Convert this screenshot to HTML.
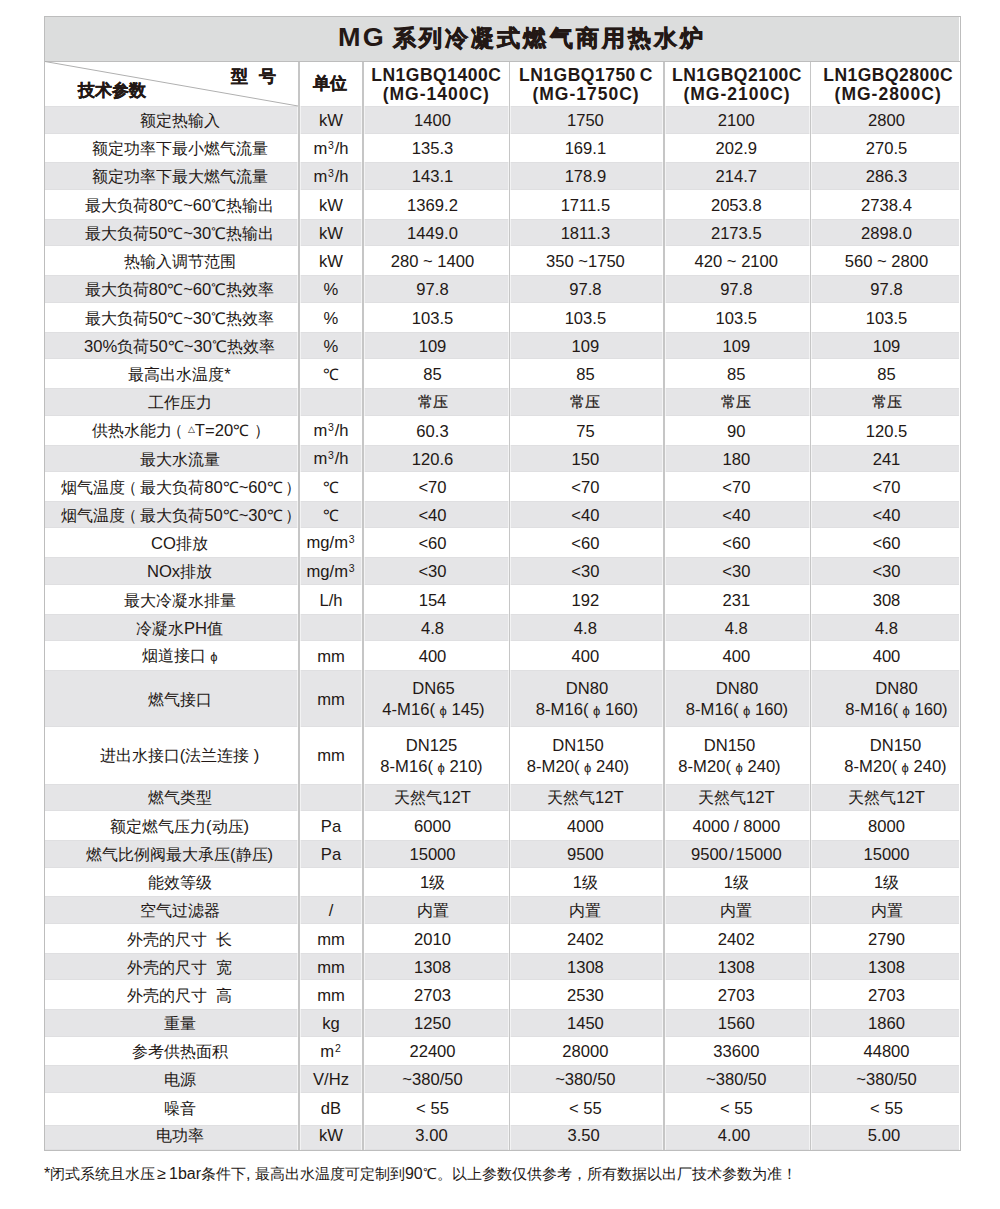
<!DOCTYPE html>
<html><head><meta charset="utf-8"><style>
html,body{margin:0;padding:0;background:#fff;}
body{width:1000px;height:1209px;position:relative;overflow:hidden;font-family:"Liberation Sans",sans-serif;color:#231815;}
.g{position:absolute;left:45px;width:914px;background:#e5e5e7;box-shadow:inset 0 1px 0 #dfdfe1,inset 0 -1px 0 #dfdfe1;}
.c{position:absolute;display:flex;align-items:center;justify-content:center;text-align:center;font-size:16.6px;line-height:20px;white-space:nowrap;}
.c>span{position:relative;top:1.2px;}
i{font-style:normal;font-size:15.8px;}
b{font-weight:normal;}
.v{position:absolute;width:1px;background:#c6c6c6;box-shadow:-1px 0 0 rgba(255,255,255,.55),1px 0 0 rgba(255,255,255,.55);}
.s i{font-size:14.5px;-webkit-text-stroke:0.2px #231815;position:relative;top:-1px;}
.phi{font-size:13px;}
.sup{font-size:10.5px;position:relative;top:-5px;margin:0 0.8px;}
.tri{font-size:9px;position:relative;top:-4px;}
.tall{line-height:21.3px;}
#title{position:absolute;left:45px;top:17px;width:914px;height:44px;background:#dcdddd;}
.tt{position:absolute;left:338px;top:20px;font-size:24px;font-weight:bold;line-height:36px;white-space:nowrap;}
.tt i{font-size:23px;letter-spacing:3.1px;-webkit-text-stroke:0.7px #231815;}
.hd{font-weight:bold;}
.hd i{font-size:17px;-webkit-text-stroke:0.3px #231815;}
#ft{position:absolute;left:44px;top:1164px;font-size:16px;line-height:20px;white-space:nowrap}
#ft i{font-size:14.7px;}
</style></head><body>

<div id="title"></div>
<div class="g" style="top:106px;height:27.6px"></div>
<div class="g" style="top:162.4px;height:27.6px"></div>
<div class="g" style="top:219.2px;height:27.2px"></div>
<div class="g" style="top:275.2px;height:27.8px"></div>
<div class="g" style="top:332px;height:27.2px"></div>
<div class="g" style="top:388px;height:28.0px"></div>
<div class="g" style="top:444.8px;height:27.2px"></div>
<div class="g" style="top:501px;height:27.4px"></div>
<div class="g" style="top:557.2px;height:27.6px"></div>
<div class="g" style="top:614px;height:27.2px"></div>
<div class="g" style="top:670.2px;height:56.8px"></div>
<div class="g" style="top:783.6px;height:27.4px"></div>
<div class="g" style="top:840px;height:27.6px"></div>
<div class="g" style="top:896px;height:28.0px"></div>
<div class="g" style="top:953px;height:27.0px"></div>
<div class="g" style="top:1009px;height:28.0px"></div>
<div class="g" style="top:1065px;height:28.0px"></div>
<div class="g" style="top:1125px;height:25.0px"></div>
<div class="v" style="left:298px;width:2px;top:62px;height:1088px"></div>
<div class="v" style="left:362px;width:2px;top:62px;height:1088px"></div>
<div class="v" style="left:509px;width:1px;top:62px;height:1088px"></div>
<div class="v" style="left:663px;width:2px;top:62px;height:1088px"></div>
<div class="v" style="left:810px;width:1px;top:62px;height:1088px"></div>
<div style="position:absolute;left:44px;top:16px;width:915px;height:1133px;border:1px solid #bdbdbd;"></div>
<div style="position:absolute;left:45px;top:61px;width:915px;height:1px;background:#bdbdbd"></div>
<svg style="position:absolute;left:0;top:0" width="1000" height="200"><line x1="45" y1="61.5" x2="298" y2="106" stroke="#b0b0b0" stroke-width="1"/></svg>
<div class="tt"><span style="font-size:25px;letter-spacing:2px;display:inline-block;transform:scaleX(1.08);transform-origin:0 0;position:relative;top:-1px">MG</span></div><div class="tt" style="left:393px"><i>系列冷凝式燃气商用热水炉</i></div>
<div class="c hd" style="left:232px;top:66px;letter-spacing:11px;margin-left:-1px"><span><i>型号</i></span></div>
<div class="c hd" style="left:78px;top:80px"><span><i>技术参数</i></span></div>
<div class="c hd" style="left:290px;width:80px;top:60px;height:45px"><span><i>单位</i></span></div>
<div class="c hd" style="left:356.3px;width:160px;top:65px;height:19px;font-size:17.5px;line-height:19px;letter-spacing:0.5px"><span>LN1GBQ1400C</span></div>
<div class="c hd" style="left:356.3px;width:160px;top:84px;height:19px;font-size:17.5px;line-height:19px;letter-spacing:1px"><span>(MG-1400C)</span></div>
<div class="c hd" style="left:506px;width:160px;top:65px;height:19px;font-size:17.5px;line-height:19px;letter-spacing:0.5px"><span>LN1GBQ1750&thinsp;C</span></div>
<div class="c hd" style="left:506px;width:160px;top:84px;height:19px;font-size:17.5px;line-height:19px;letter-spacing:1px"><span>(MG-1750C)</span></div>
<div class="c hd" style="left:657px;width:160px;top:65px;height:19px;font-size:17.5px;line-height:19px;letter-spacing:0.5px"><span>LN1GBQ2100C</span></div>
<div class="c hd" style="left:657px;width:160px;top:84px;height:19px;font-size:17.5px;line-height:19px;letter-spacing:1px"><span>(MG-2100C)</span></div>
<div class="c hd" style="left:808.2px;width:160px;top:65px;height:19px;font-size:17.5px;line-height:19px;letter-spacing:0.5px"><span>LN1GBQ2800C</span></div>
<div class="c hd" style="left:808.2px;width:160px;top:84px;height:19px;font-size:17.5px;line-height:19px;letter-spacing:1px"><span>(MG-2800C)</span></div>
<div class="c" style="left:29.5px;width:300px;top:106.0px;height:27.6px"><span><i>额定热输入</i></span></div>
<div class="c" style="left:291.0px;width:80px;top:106.0px;height:27.6px"><span>kW</span></div>
<div class="c" style="left:357.5px;width:150px;top:106.0px;height:27.6px"><span>1400</span></div>
<div class="c" style="left:505.4px;width:160px;top:106.0px;height:27.6px"><span>1750</span></div>
<div class="c" style="left:661.3px;width:150px;top:106.0px;height:27.6px"><span>2100</span></div>
<div class="c" style="left:811.5px;width:150px;top:106.0px;height:27.6px"><span>2800</span></div>
<div class="c" style="left:29.5px;width:300px;top:133.6px;height:28.8px"><span><i>额定功率下最小燃气流量</i></span></div>
<div class="c" style="left:291.0px;width:80px;top:133.6px;height:28.8px"><span>m<b class=sup>3</b>/h</span></div>
<div class="c" style="left:357.5px;width:150px;top:133.6px;height:28.8px"><span>135.3</span></div>
<div class="c" style="left:505.4px;width:160px;top:133.6px;height:28.8px"><span>169.1</span></div>
<div class="c" style="left:661.3px;width:150px;top:133.6px;height:28.8px"><span>202.9</span></div>
<div class="c" style="left:811.5px;width:150px;top:133.6px;height:28.8px"><span>270.5</span></div>
<div class="c" style="left:29.5px;width:300px;top:162.4px;height:27.6px"><span><i>额定功率下最大燃气流量</i></span></div>
<div class="c" style="left:291.0px;width:80px;top:162.4px;height:27.6px"><span>m<b class=sup>3</b>/h</span></div>
<div class="c" style="left:357.5px;width:150px;top:162.4px;height:27.6px"><span>143.1</span></div>
<div class="c" style="left:505.4px;width:160px;top:162.4px;height:27.6px"><span>178.9</span></div>
<div class="c" style="left:661.3px;width:150px;top:162.4px;height:27.6px"><span>214.7</span></div>
<div class="c" style="left:811.5px;width:150px;top:162.4px;height:27.6px"><span>286.3</span></div>
<div class="c" style="left:29.5px;width:300px;top:190.0px;height:29.2px"><span><i>最大负荷</i>80<i>℃</i>~60<i>℃热输出</i></span></div>
<div class="c" style="left:291.0px;width:80px;top:190.0px;height:29.2px"><span>kW</span></div>
<div class="c" style="left:357.5px;width:150px;top:190.0px;height:29.2px"><span>1369.2</span></div>
<div class="c" style="left:505.4px;width:160px;top:190.0px;height:29.2px"><span>1711.5</span></div>
<div class="c" style="left:661.3px;width:150px;top:190.0px;height:29.2px"><span>2053.8</span></div>
<div class="c" style="left:811.5px;width:150px;top:190.0px;height:29.2px"><span>2738.4</span></div>
<div class="c" style="left:29.5px;width:300px;top:219.2px;height:27.2px"><span><i>最大负荷</i>50<i>℃</i>~30<i>℃热输出</i></span></div>
<div class="c" style="left:291.0px;width:80px;top:219.2px;height:27.2px"><span>kW</span></div>
<div class="c" style="left:357.5px;width:150px;top:219.2px;height:27.2px"><span>1449.0</span></div>
<div class="c" style="left:505.4px;width:160px;top:219.2px;height:27.2px"><span>1811.3</span></div>
<div class="c" style="left:661.3px;width:150px;top:219.2px;height:27.2px"><span>2173.5</span></div>
<div class="c" style="left:811.5px;width:150px;top:219.2px;height:27.2px"><span>2898.0</span></div>
<div class="c" style="left:29.5px;width:300px;top:246.4px;height:28.8px"><span><i>热输入调节范围</i></span></div>
<div class="c" style="left:291.0px;width:80px;top:246.4px;height:28.8px"><span>kW</span></div>
<div class="c" style="left:357.5px;width:150px;top:246.4px;height:28.8px"><span>280 ~ 1400</span></div>
<div class="c" style="left:505.4px;width:160px;top:246.4px;height:28.8px"><span>350 ~1750</span></div>
<div class="c" style="left:661.3px;width:150px;top:246.4px;height:28.8px"><span>420 ~ 2100</span></div>
<div class="c" style="left:811.5px;width:150px;top:246.4px;height:28.8px"><span>560 ~ 2800</span></div>
<div class="c" style="left:29.5px;width:300px;top:275.2px;height:27.8px"><span><i>最大负荷</i>80<i>℃</i>~60<i>℃热效率</i></span></div>
<div class="c" style="left:291.0px;width:80px;top:275.2px;height:27.8px"><span>%</span></div>
<div class="c" style="left:357.5px;width:150px;top:275.2px;height:27.8px"><span>97.8</span></div>
<div class="c" style="left:505.4px;width:160px;top:275.2px;height:27.8px"><span>97.8</span></div>
<div class="c" style="left:661.3px;width:150px;top:275.2px;height:27.8px"><span>97.8</span></div>
<div class="c" style="left:811.5px;width:150px;top:275.2px;height:27.8px"><span>97.8</span></div>
<div class="c" style="left:29.5px;width:300px;top:303.0px;height:29.0px"><span><i>最大负荷</i>50<i>℃</i>~30<i>℃热效率</i></span></div>
<div class="c" style="left:291.0px;width:80px;top:303.0px;height:29.0px"><span>%</span></div>
<div class="c" style="left:357.5px;width:150px;top:303.0px;height:29.0px"><span>103.5</span></div>
<div class="c" style="left:505.4px;width:160px;top:303.0px;height:29.0px"><span>103.5</span></div>
<div class="c" style="left:661.3px;width:150px;top:303.0px;height:29.0px"><span>103.5</span></div>
<div class="c" style="left:811.5px;width:150px;top:303.0px;height:29.0px"><span>103.5</span></div>
<div class="c" style="left:29.5px;width:300px;top:332.0px;height:27.2px"><span>30%<i>负荷</i>50<i>℃</i>~30<i>℃热效率</i></span></div>
<div class="c" style="left:291.0px;width:80px;top:332.0px;height:27.2px"><span>%</span></div>
<div class="c" style="left:357.5px;width:150px;top:332.0px;height:27.2px"><span>109</span></div>
<div class="c" style="left:505.4px;width:160px;top:332.0px;height:27.2px"><span>109</span></div>
<div class="c" style="left:661.3px;width:150px;top:332.0px;height:27.2px"><span>109</span></div>
<div class="c" style="left:811.5px;width:150px;top:332.0px;height:27.2px"><span>109</span></div>
<div class="c" style="left:29.5px;width:300px;top:359.2px;height:28.8px"><span><i>最高出水温度</i>*</span></div>
<div class="c" style="left:291.0px;width:80px;top:359.2px;height:28.8px"><span><i>℃</i></span></div>
<div class="c" style="left:357.5px;width:150px;top:359.2px;height:28.8px"><span>85</span></div>
<div class="c" style="left:505.4px;width:160px;top:359.2px;height:28.8px"><span>85</span></div>
<div class="c" style="left:661.3px;width:150px;top:359.2px;height:28.8px"><span>85</span></div>
<div class="c" style="left:811.5px;width:150px;top:359.2px;height:28.8px"><span>85</span></div>
<div class="c" style="left:29.5px;width:300px;top:388.0px;height:28.0px"><span><i>工作压力</i></span></div>
<div class="c" style="left:357.5px;width:150px;top:388.0px;height:28.0px"><span><b class=s><i>常压</i></b></span></div>
<div class="c" style="left:505.4px;width:160px;top:388.0px;height:28.0px"><span><b class=s><i>常压</i></b></span></div>
<div class="c" style="left:661.3px;width:150px;top:388.0px;height:28.0px"><span><b class=s><i>常压</i></b></span></div>
<div class="c" style="left:811.5px;width:150px;top:388.0px;height:28.0px"><span><b class=s><i>常压</i></b></span></div>
<div class="c" style="left:31.0px;width:300px;top:416.0px;height:28.8px"><span><i>供热水能力</i><i style='margin-left:-5px'><i>（</i></i> <b class=tri>△</b>T=20<i>℃</i> <i>）</i></span></div>
<div class="c" style="left:291.0px;width:80px;top:416.0px;height:28.8px"><span>m<b class=sup>3</b>/h</span></div>
<div class="c" style="left:357.5px;width:150px;top:416.0px;height:28.8px"><span>60.3</span></div>
<div class="c" style="left:505.4px;width:160px;top:416.0px;height:28.8px"><span>75</span></div>
<div class="c" style="left:661.3px;width:150px;top:416.0px;height:28.8px"><span>90</span></div>
<div class="c" style="left:811.5px;width:150px;top:416.0px;height:28.8px"><span>120.5</span></div>
<div class="c" style="left:29.5px;width:300px;top:444.8px;height:27.2px"><span><i>最大水流量</i></span></div>
<div class="c" style="left:291.0px;width:80px;top:444.8px;height:27.2px"><span>m<b class=sup>3</b>/h</span></div>
<div class="c" style="left:357.5px;width:150px;top:444.8px;height:27.2px"><span>120.6</span></div>
<div class="c" style="left:505.4px;width:160px;top:444.8px;height:27.2px"><span>150</span></div>
<div class="c" style="left:661.3px;width:150px;top:444.8px;height:27.2px"><span>180</span></div>
<div class="c" style="left:811.5px;width:150px;top:444.8px;height:27.2px"><span>241</span></div>
<div class="c" style="left:31.0px;width:300px;top:472.0px;height:29.0px"><span><i>烟气温度</i><i style='margin:0 3px 0 -4px'><i>（</i></i><i>最大负荷</i>80<i>℃</i>~60<i>℃</i><i style='margin-left:2px'><i>）</i></i></span></div>
<div class="c" style="left:291.0px;width:80px;top:472.0px;height:29.0px"><span><i>℃</i></span></div>
<div class="c" style="left:357.5px;width:150px;top:472.0px;height:29.0px"><span>&lt;70</span></div>
<div class="c" style="left:505.4px;width:160px;top:472.0px;height:29.0px"><span>&lt;70</span></div>
<div class="c" style="left:661.3px;width:150px;top:472.0px;height:29.0px"><span>&lt;70</span></div>
<div class="c" style="left:811.5px;width:150px;top:472.0px;height:29.0px"><span>&lt;70</span></div>
<div class="c" style="left:31.0px;width:300px;top:501.0px;height:27.4px"><span><i>烟气温度</i><i style='margin:0 3px 0 -4px'><i>（</i></i><i>最大负荷</i>50<i>℃</i>~30<i>℃</i><i style='margin-left:2px'><i>）</i></i></span></div>
<div class="c" style="left:291.0px;width:80px;top:501.0px;height:27.4px"><span><i>℃</i></span></div>
<div class="c" style="left:357.5px;width:150px;top:501.0px;height:27.4px"><span>&lt;40</span></div>
<div class="c" style="left:505.4px;width:160px;top:501.0px;height:27.4px"><span>&lt;40</span></div>
<div class="c" style="left:661.3px;width:150px;top:501.0px;height:27.4px"><span>&lt;40</span></div>
<div class="c" style="left:811.5px;width:150px;top:501.0px;height:27.4px"><span>&lt;40</span></div>
<div class="c" style="left:29.5px;width:300px;top:528.4px;height:28.8px"><span>CO<i>排放</i></span></div>
<div class="c" style="left:291.0px;width:80px;top:528.4px;height:28.8px"><span>mg/m<b class=sup>3</b></span></div>
<div class="c" style="left:357.5px;width:150px;top:528.4px;height:28.8px"><span>&lt;60</span></div>
<div class="c" style="left:505.4px;width:160px;top:528.4px;height:28.8px"><span>&lt;60</span></div>
<div class="c" style="left:661.3px;width:150px;top:528.4px;height:28.8px"><span>&lt;60</span></div>
<div class="c" style="left:811.5px;width:150px;top:528.4px;height:28.8px"><span>&lt;60</span></div>
<div class="c" style="left:29.5px;width:300px;top:557.2px;height:27.6px"><span>NOx<i>排放</i></span></div>
<div class="c" style="left:291.0px;width:80px;top:557.2px;height:27.6px"><span>mg/m<b class=sup>3</b></span></div>
<div class="c" style="left:357.5px;width:150px;top:557.2px;height:27.6px"><span>&lt;30</span></div>
<div class="c" style="left:505.4px;width:160px;top:557.2px;height:27.6px"><span>&lt;30</span></div>
<div class="c" style="left:661.3px;width:150px;top:557.2px;height:27.6px"><span>&lt;30</span></div>
<div class="c" style="left:811.5px;width:150px;top:557.2px;height:27.6px"><span>&lt;30</span></div>
<div class="c" style="left:29.5px;width:300px;top:584.8px;height:29.2px"><span><i>最大冷凝水排量</i></span></div>
<div class="c" style="left:291.0px;width:80px;top:584.8px;height:29.2px"><span>L/h</span></div>
<div class="c" style="left:357.5px;width:150px;top:584.8px;height:29.2px"><span>154</span></div>
<div class="c" style="left:505.4px;width:160px;top:584.8px;height:29.2px"><span>192</span></div>
<div class="c" style="left:661.3px;width:150px;top:584.8px;height:29.2px"><span>231</span></div>
<div class="c" style="left:811.5px;width:150px;top:584.8px;height:29.2px"><span>308</span></div>
<div class="c" style="left:29.5px;width:300px;top:614.0px;height:27.2px"><span><i>冷凝水</i>PH<i>值</i></span></div>
<div class="c" style="left:357.5px;width:150px;top:614.0px;height:27.2px"><span>4.8</span></div>
<div class="c" style="left:505.4px;width:160px;top:614.0px;height:27.2px"><span>4.8</span></div>
<div class="c" style="left:661.3px;width:150px;top:614.0px;height:27.2px"><span>4.8</span></div>
<div class="c" style="left:811.5px;width:150px;top:614.0px;height:27.2px"><span>4.8</span></div>
<div class="c" style="left:29.5px;width:300px;top:641.2px;height:29.0px"><span><i>烟道接口</i> <b class=phi>ϕ</b></span></div>
<div class="c" style="left:291.0px;width:80px;top:641.2px;height:29.0px"><span>mm</span></div>
<div class="c" style="left:357.5px;width:150px;top:641.2px;height:29.0px"><span>400</span></div>
<div class="c" style="left:505.4px;width:160px;top:641.2px;height:29.0px"><span>400</span></div>
<div class="c" style="left:661.3px;width:150px;top:641.2px;height:29.0px"><span>400</span></div>
<div class="c" style="left:811.5px;width:150px;top:641.2px;height:29.0px"><span>400</span></div>
<div class="c" style="left:29.5px;width:300px;top:670.2px;height:56.8px"><span><i>燃气接口</i></span></div>
<div class="c" style="left:291.0px;width:80px;top:670.2px;height:56.8px"><span>mm</span></div>
<div class="c tall" style="left:358.5px;width:150px;top:670.2px;height:56.8px"><span>DN65<br>4-M16( <b class=phi>ϕ</b> 145)</span></div>
<div class="c tall" style="left:507.0px;width:160px;top:670.2px;height:56.8px"><span>DN80<br>8-M16( <b class=phi>ϕ</b> 160)</span></div>
<div class="c tall" style="left:662.0px;width:150px;top:670.2px;height:56.8px"><span>DN80<br>8-M16( <b class=phi>ϕ</b> 160)</span></div>
<div class="c tall" style="left:821.5px;width:150px;top:670.2px;height:56.8px"><span>DN80<br>8-M16( <b class=phi>ϕ</b> 160)</span></div>
<div class="c" style="left:29.5px;width:300px;top:727.0px;height:56.6px"><span><i>进出水接口</i>(<i>法兰连接</i> )</span></div>
<div class="c" style="left:291.0px;width:80px;top:727.0px;height:56.6px"><span>mm</span></div>
<div class="c tall" style="left:356.5px;width:150px;top:727.0px;height:56.6px"><span>DN125<br>8-M16( <b class=phi>ϕ</b> 210)</span></div>
<div class="c tall" style="left:498.0px;width:160px;top:727.0px;height:56.6px"><span>DN150<br>8-M20( <b class=phi>ϕ</b> 240)</span></div>
<div class="c tall" style="left:654.5px;width:150px;top:727.0px;height:56.6px"><span>DN150<br>8-M20( <b class=phi>ϕ</b> 240)</span></div>
<div class="c tall" style="left:820.5px;width:150px;top:727.0px;height:56.6px"><span>DN150<br>8-M20( <b class=phi>ϕ</b> 240)</span></div>
<div class="c" style="left:29.5px;width:300px;top:783.6px;height:27.4px"><span><i>燃气类型</i></span></div>
<div class="c" style="left:357.5px;width:150px;top:783.6px;height:27.4px"><span><i>天然气</i>12T</span></div>
<div class="c" style="left:505.4px;width:160px;top:783.6px;height:27.4px"><span><i>天然气</i>12T</span></div>
<div class="c" style="left:661.3px;width:150px;top:783.6px;height:27.4px"><span><i>天然气</i>12T</span></div>
<div class="c" style="left:811.5px;width:150px;top:783.6px;height:27.4px"><span><i>天然气</i>12T</span></div>
<div class="c" style="left:29.5px;width:300px;top:811.0px;height:29.0px"><span><i>额定燃气压力</i>(<i>动压</i>)</span></div>
<div class="c" style="left:291.0px;width:80px;top:811.0px;height:29.0px"><span>Pa</span></div>
<div class="c" style="left:357.5px;width:150px;top:811.0px;height:29.0px"><span>6000</span></div>
<div class="c" style="left:505.4px;width:160px;top:811.0px;height:29.0px"><span>4000</span></div>
<div class="c" style="left:661.3px;width:150px;top:811.0px;height:29.0px"><span>4000 / 8000</span></div>
<div class="c" style="left:811.5px;width:150px;top:811.0px;height:29.0px"><span>8000</span></div>
<div class="c" style="left:29.5px;width:300px;top:840.0px;height:27.6px"><span><i>燃气比例阀最大承压</i>(<i>静压</i>)</span></div>
<div class="c" style="left:291.0px;width:80px;top:840.0px;height:27.6px"><span>Pa</span></div>
<div class="c" style="left:357.5px;width:150px;top:840.0px;height:27.6px"><span>15000</span></div>
<div class="c" style="left:505.4px;width:160px;top:840.0px;height:27.6px"><span>9500</span></div>
<div class="c" style="left:661.3px;width:150px;top:840.0px;height:27.6px"><span>9500<b style='margin:0 1.5px'>/</b>15000</span></div>
<div class="c" style="left:811.5px;width:150px;top:840.0px;height:27.6px"><span>15000</span></div>
<div class="c" style="left:29.5px;width:300px;top:867.6px;height:28.4px"><span><i>能效等级</i></span></div>
<div class="c" style="left:357.5px;width:150px;top:867.6px;height:28.4px"><span>1<i>级</i></span></div>
<div class="c" style="left:505.4px;width:160px;top:867.6px;height:28.4px"><span>1<i>级</i></span></div>
<div class="c" style="left:661.3px;width:150px;top:867.6px;height:28.4px"><span>1<i>级</i></span></div>
<div class="c" style="left:811.5px;width:150px;top:867.6px;height:28.4px"><span>1<i>级</i></span></div>
<div class="c" style="left:29.5px;width:300px;top:896.0px;height:28.0px"><span><i>空气过滤器</i></span></div>
<div class="c" style="left:291.0px;width:80px;top:896.0px;height:28.0px"><span>/</span></div>
<div class="c" style="left:357.5px;width:150px;top:896.0px;height:28.0px"><span><i>内置</i></span></div>
<div class="c" style="left:505.4px;width:160px;top:896.0px;height:28.0px"><span><i>内置</i></span></div>
<div class="c" style="left:661.3px;width:150px;top:896.0px;height:28.0px"><span><i>内置</i></span></div>
<div class="c" style="left:811.5px;width:150px;top:896.0px;height:28.0px"><span><i>内置</i></span></div>
<div class="c" style="left:29.5px;width:300px;top:924.0px;height:29.0px"><span><i>外壳的尺寸</i>&nbsp; <i>长</i></span></div>
<div class="c" style="left:291.0px;width:80px;top:924.0px;height:29.0px"><span>mm</span></div>
<div class="c" style="left:357.5px;width:150px;top:924.0px;height:29.0px"><span>2010</span></div>
<div class="c" style="left:505.4px;width:160px;top:924.0px;height:29.0px"><span>2402</span></div>
<div class="c" style="left:661.3px;width:150px;top:924.0px;height:29.0px"><span>2402</span></div>
<div class="c" style="left:811.5px;width:150px;top:924.0px;height:29.0px"><span>2790</span></div>
<div class="c" style="left:29.5px;width:300px;top:953.0px;height:27.0px"><span><i>外壳的尺寸</i>&nbsp; <i>宽</i></span></div>
<div class="c" style="left:291.0px;width:80px;top:953.0px;height:27.0px"><span>mm</span></div>
<div class="c" style="left:357.5px;width:150px;top:953.0px;height:27.0px"><span>1308</span></div>
<div class="c" style="left:505.4px;width:160px;top:953.0px;height:27.0px"><span>1308</span></div>
<div class="c" style="left:661.3px;width:150px;top:953.0px;height:27.0px"><span>1308</span></div>
<div class="c" style="left:811.5px;width:150px;top:953.0px;height:27.0px"><span>1308</span></div>
<div class="c" style="left:29.5px;width:300px;top:980.0px;height:29.0px"><span><i>外壳的尺寸</i>&nbsp; <i>高</i></span></div>
<div class="c" style="left:291.0px;width:80px;top:980.0px;height:29.0px"><span>mm</span></div>
<div class="c" style="left:357.5px;width:150px;top:980.0px;height:29.0px"><span>2703</span></div>
<div class="c" style="left:505.4px;width:160px;top:980.0px;height:29.0px"><span>2530</span></div>
<div class="c" style="left:661.3px;width:150px;top:980.0px;height:29.0px"><span>2703</span></div>
<div class="c" style="left:811.5px;width:150px;top:980.0px;height:29.0px"><span>2703</span></div>
<div class="c" style="left:29.5px;width:300px;top:1009.0px;height:28.0px"><span><i>重量</i></span></div>
<div class="c" style="left:291.0px;width:80px;top:1009.0px;height:28.0px"><span>kg</span></div>
<div class="c" style="left:357.5px;width:150px;top:1009.0px;height:28.0px"><span>1250</span></div>
<div class="c" style="left:505.4px;width:160px;top:1009.0px;height:28.0px"><span>1450</span></div>
<div class="c" style="left:661.3px;width:150px;top:1009.0px;height:28.0px"><span>1560</span></div>
<div class="c" style="left:811.5px;width:150px;top:1009.0px;height:28.0px"><span>1860</span></div>
<div class="c" style="left:29.5px;width:300px;top:1037.0px;height:28.0px"><span><i>参考供热面积</i></span></div>
<div class="c" style="left:291.0px;width:80px;top:1037.0px;height:28.0px"><span>m<b class=sup>2</b></span></div>
<div class="c" style="left:357.5px;width:150px;top:1037.0px;height:28.0px"><span>22400</span></div>
<div class="c" style="left:505.4px;width:160px;top:1037.0px;height:28.0px"><span>28000</span></div>
<div class="c" style="left:661.3px;width:150px;top:1037.0px;height:28.0px"><span>33600</span></div>
<div class="c" style="left:811.5px;width:150px;top:1037.0px;height:28.0px"><span>44800</span></div>
<div class="c" style="left:29.5px;width:300px;top:1065.0px;height:28.0px"><span><i>电源</i></span></div>
<div class="c" style="left:291.0px;width:80px;top:1065.0px;height:28.0px"><span>V/Hz</span></div>
<div class="c" style="left:357.5px;width:150px;top:1065.0px;height:28.0px"><span>~380/50</span></div>
<div class="c" style="left:505.4px;width:160px;top:1065.0px;height:28.0px"><span>~380/50</span></div>
<div class="c" style="left:661.3px;width:150px;top:1065.0px;height:28.0px"><span>~380/50</span></div>
<div class="c" style="left:811.5px;width:150px;top:1065.0px;height:28.0px"><span>~380/50</span></div>
<div class="c" style="left:29.5px;width:300px;top:1092.0px;height:32.0px"><span><i>噪音</i></span></div>
<div class="c" style="left:291.0px;width:80px;top:1092.0px;height:32.0px"><span>dB</span></div>
<div class="c" style="left:357.5px;width:150px;top:1092.0px;height:32.0px"><span>&lt; 55</span></div>
<div class="c" style="left:505.4px;width:160px;top:1092.0px;height:32.0px"><span>&lt; 55</span></div>
<div class="c" style="left:661.3px;width:150px;top:1092.0px;height:32.0px"><span>&lt; 55</span></div>
<div class="c" style="left:811.5px;width:150px;top:1092.0px;height:32.0px"><span>&lt; 55</span></div>
<div class="c" style="left:29.5px;width:300px;top:1122.6px;height:25.0px"><span><i>电功率</i></span></div>
<div class="c" style="left:291.0px;width:80px;top:1122.6px;height:25.0px"><span>kW</span></div>
<div class="c" style="left:356.5px;width:150px;top:1122.6px;height:25.0px"><span>3.00</span></div>
<div class="c" style="left:503.7px;width:160px;top:1122.6px;height:25.0px"><span>3.50</span></div>
<div class="c" style="left:659.0px;width:150px;top:1122.6px;height:25.0px"><span>4.00</span></div>
<div class="c" style="left:809.0px;width:150px;top:1122.6px;height:25.0px"><span>5.00</span></div>
<div id="ft">*<i>闭式系统且水压</i><b style="margin:0 3px 0 2px">≥</b>1bar<i>条件下</i>, <i>最高出水温度可定制到</i>90<i>℃。以上参数仅供参考，所有数据以出厂技术参数为准！</i></div>
</body></html>
